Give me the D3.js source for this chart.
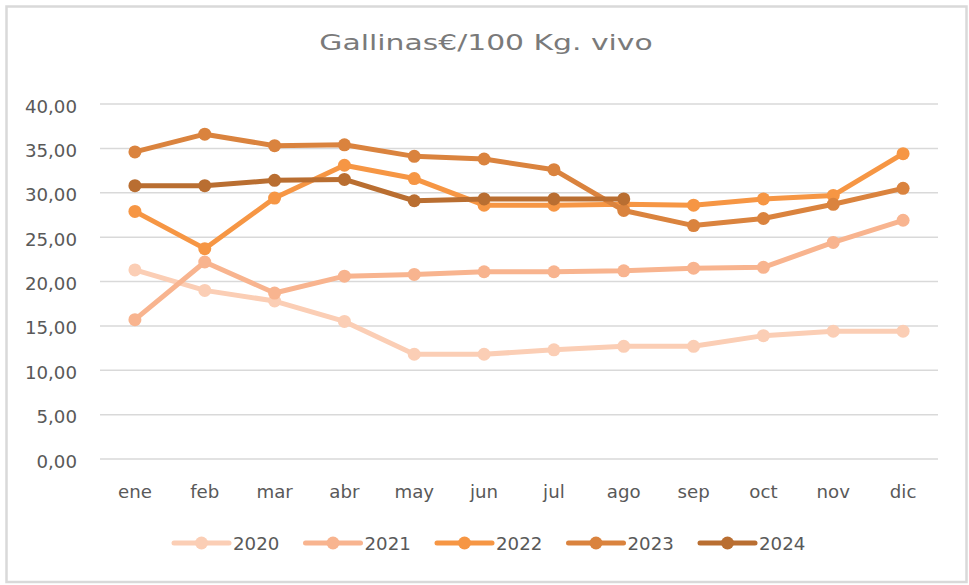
<!DOCTYPE html>
<html>
<head>
<meta charset="utf-8">
<script src="https://cdn.jsdelivr.net/npm/d3@7"></script>
<style>
    body { margin: 0; background: #fff; }
    text { font-family: "DejaVu Sans", sans-serif; fill: #595959; }
</style>
</head>
<body>
<script>
//month categories and years
var months = ["ene", "feb", "mar", "abr", "may", "jun", "jul", "ago", "sep", "oct", "nov", "dic"];
var years = ["2020", "2021", "2022", "2023", "2024"];

//price series, €/100 kg live weight
var v2020 = [21.3, 19.0, 17.8, 15.5, 11.8, 11.8, 12.3, 12.7, 12.7, 13.9, 14.4, 14.4];
var v2021 = [15.7, 22.2, 18.7, 20.6, 20.8, 21.1, 21.1, 21.2, 21.5, 21.6, 24.4, 26.9];
var v2022 = [27.9, 23.7, 29.4, 33.1, 31.6, 28.6, 28.6, 28.7, 28.6, 29.3, 29.7, 34.4];
var v2023 = [34.6, 36.6, 35.3, 35.4, 34.1, 33.8, 32.6, 28.0, 26.3, 27.1, 28.7, 30.5];
var v2024 = [30.8, 30.8, 31.4, 31.5, 29.1, 29.3, 29.3, 29.3];

var colors = ["#fbceb5", "#f8b48f", "#f69644", "#da833e", "#b96e31"];

window.onload = setChart();

function setChart(){

    var width = 969,
        height = 585;

    var svg = d3.select("body")
        .append("svg")
        .attr("width", width)
        .attr("height", height);

    //chart area border
    svg.append("rect")
        .attr("x", 6.5)
        .attr("y", 6.5)
        .attr("width", 960)
        .attr("height", 575.5)
        .attr("fill", "#fff")
        .attr("stroke", "#d9d9d9")
        .attr("stroke-width", 2.5);

    //title
    svg.append("text")
        .attr("transform", "translate(486,50) scale(1.42,1)")
        .attr("text-anchor", "middle")
        .style("font-size", "21px")
        .style("fill", "#7a7a7a")
        .text("Gallinas€/100 Kg. vivo");

    var x = d3.scaleBand()
        .domain(months)
        .range([100, 938]);

    var y = d3.scaleLinear()
        .domain([0, 40])
        .range([459, 104]);

    var fmt = d3.formatLocale({decimal: ",", thousands: ".", grouping: [3], currency: ["", "€"]}).format(".2f");

    //gridlines
    svg.selectAll(".grid")
        .data(y.ticks(8))
        .enter()
        .append("line")
        .attr("class", "grid")
        .attr("x1", 100)
        .attr("x2", 938)
        .attr("y1", function(d){ return y(d); })
        .attr("y2", function(d){ return y(d); })
        .attr("stroke", "#d9d9d9")
        .attr("stroke-width", 1.5);

    //y labels
    svg.selectAll(".ylab")
        .data(y.ticks(8))
        .enter()
        .append("text")
        .attr("class", "ylab")
        .attr("x", 77)
        .attr("y", function(d){ return y(d) + 8.5; })
        .attr("text-anchor", "end")
        .style("font-size", "18.2px")
        .text(function(d){ return fmt(d); });

    //x labels
    var xAxis = svg.append("g")
        .attr("transform", "translate(0,459)")
        .call(d3.axisBottom(x).tickSize(0).tickPadding(26));
    xAxis.select(".domain").remove();
    xAxis.selectAll("text")
        .attr("dy", null)
        .attr("y", 39)
        .style("font-size", "18.2px")
        .style("font-family", "DejaVu Sans, sans-serif")
        .attr("fill", "#595959");

    var series = [v2020, v2021, v2022, v2023, v2024];

    var line = d3.line()
        .x(function(d, i){ return x(months[i]) + x.bandwidth() / 2; })
        .y(function(d){ return y(d); });

    //lines and markers, one group per year
    series.forEach(function(vals, k){
        var g = svg.append("g").attr("class", "series y" + years[k]);
        g.append("path")
            .datum(vals)
            .attr("d", line)
            .attr("fill", "none")
            .attr("stroke", colors[k])
            .attr("stroke-width", 5)
            .attr("stroke-linejoin", "round");
        g.selectAll("circle")
            .data(vals)
            .enter()
            .append("circle")
            .attr("cx", function(d, i){ return x(months[i]) + x.bandwidth() / 2; })
            .attr("cy", function(d){ return y(d); })
            .attr("r", 6.5)
            .attr("fill", colors[k]);
    });

    //legend
    var legend = svg.selectAll(".legend")
        .data(years)
        .enter()
        .append("g")
        .attr("class", "legend")
        .attr("transform", function(d, i){ return "translate(" + (174 + i * 131.5) + ",543)"; });

    legend.append("line")
        .attr("x1", 0)
        .attr("x2", 55)
        .attr("stroke", function(d, i){ return colors[i]; })
        .attr("stroke-width", 5)
        .attr("stroke-linecap", "round");

    legend.append("circle")
        .attr("cx", 27.5)
        .attr("r", 6.5)
        .attr("fill", function(d, i){ return colors[i]; });

    legend.append("text")
        .attr("x", 59)
        .attr("y", 7)
        .style("font-size", "18.2px")
        .text(function(d){ return d; });
};
</script>
</body>
</html>
